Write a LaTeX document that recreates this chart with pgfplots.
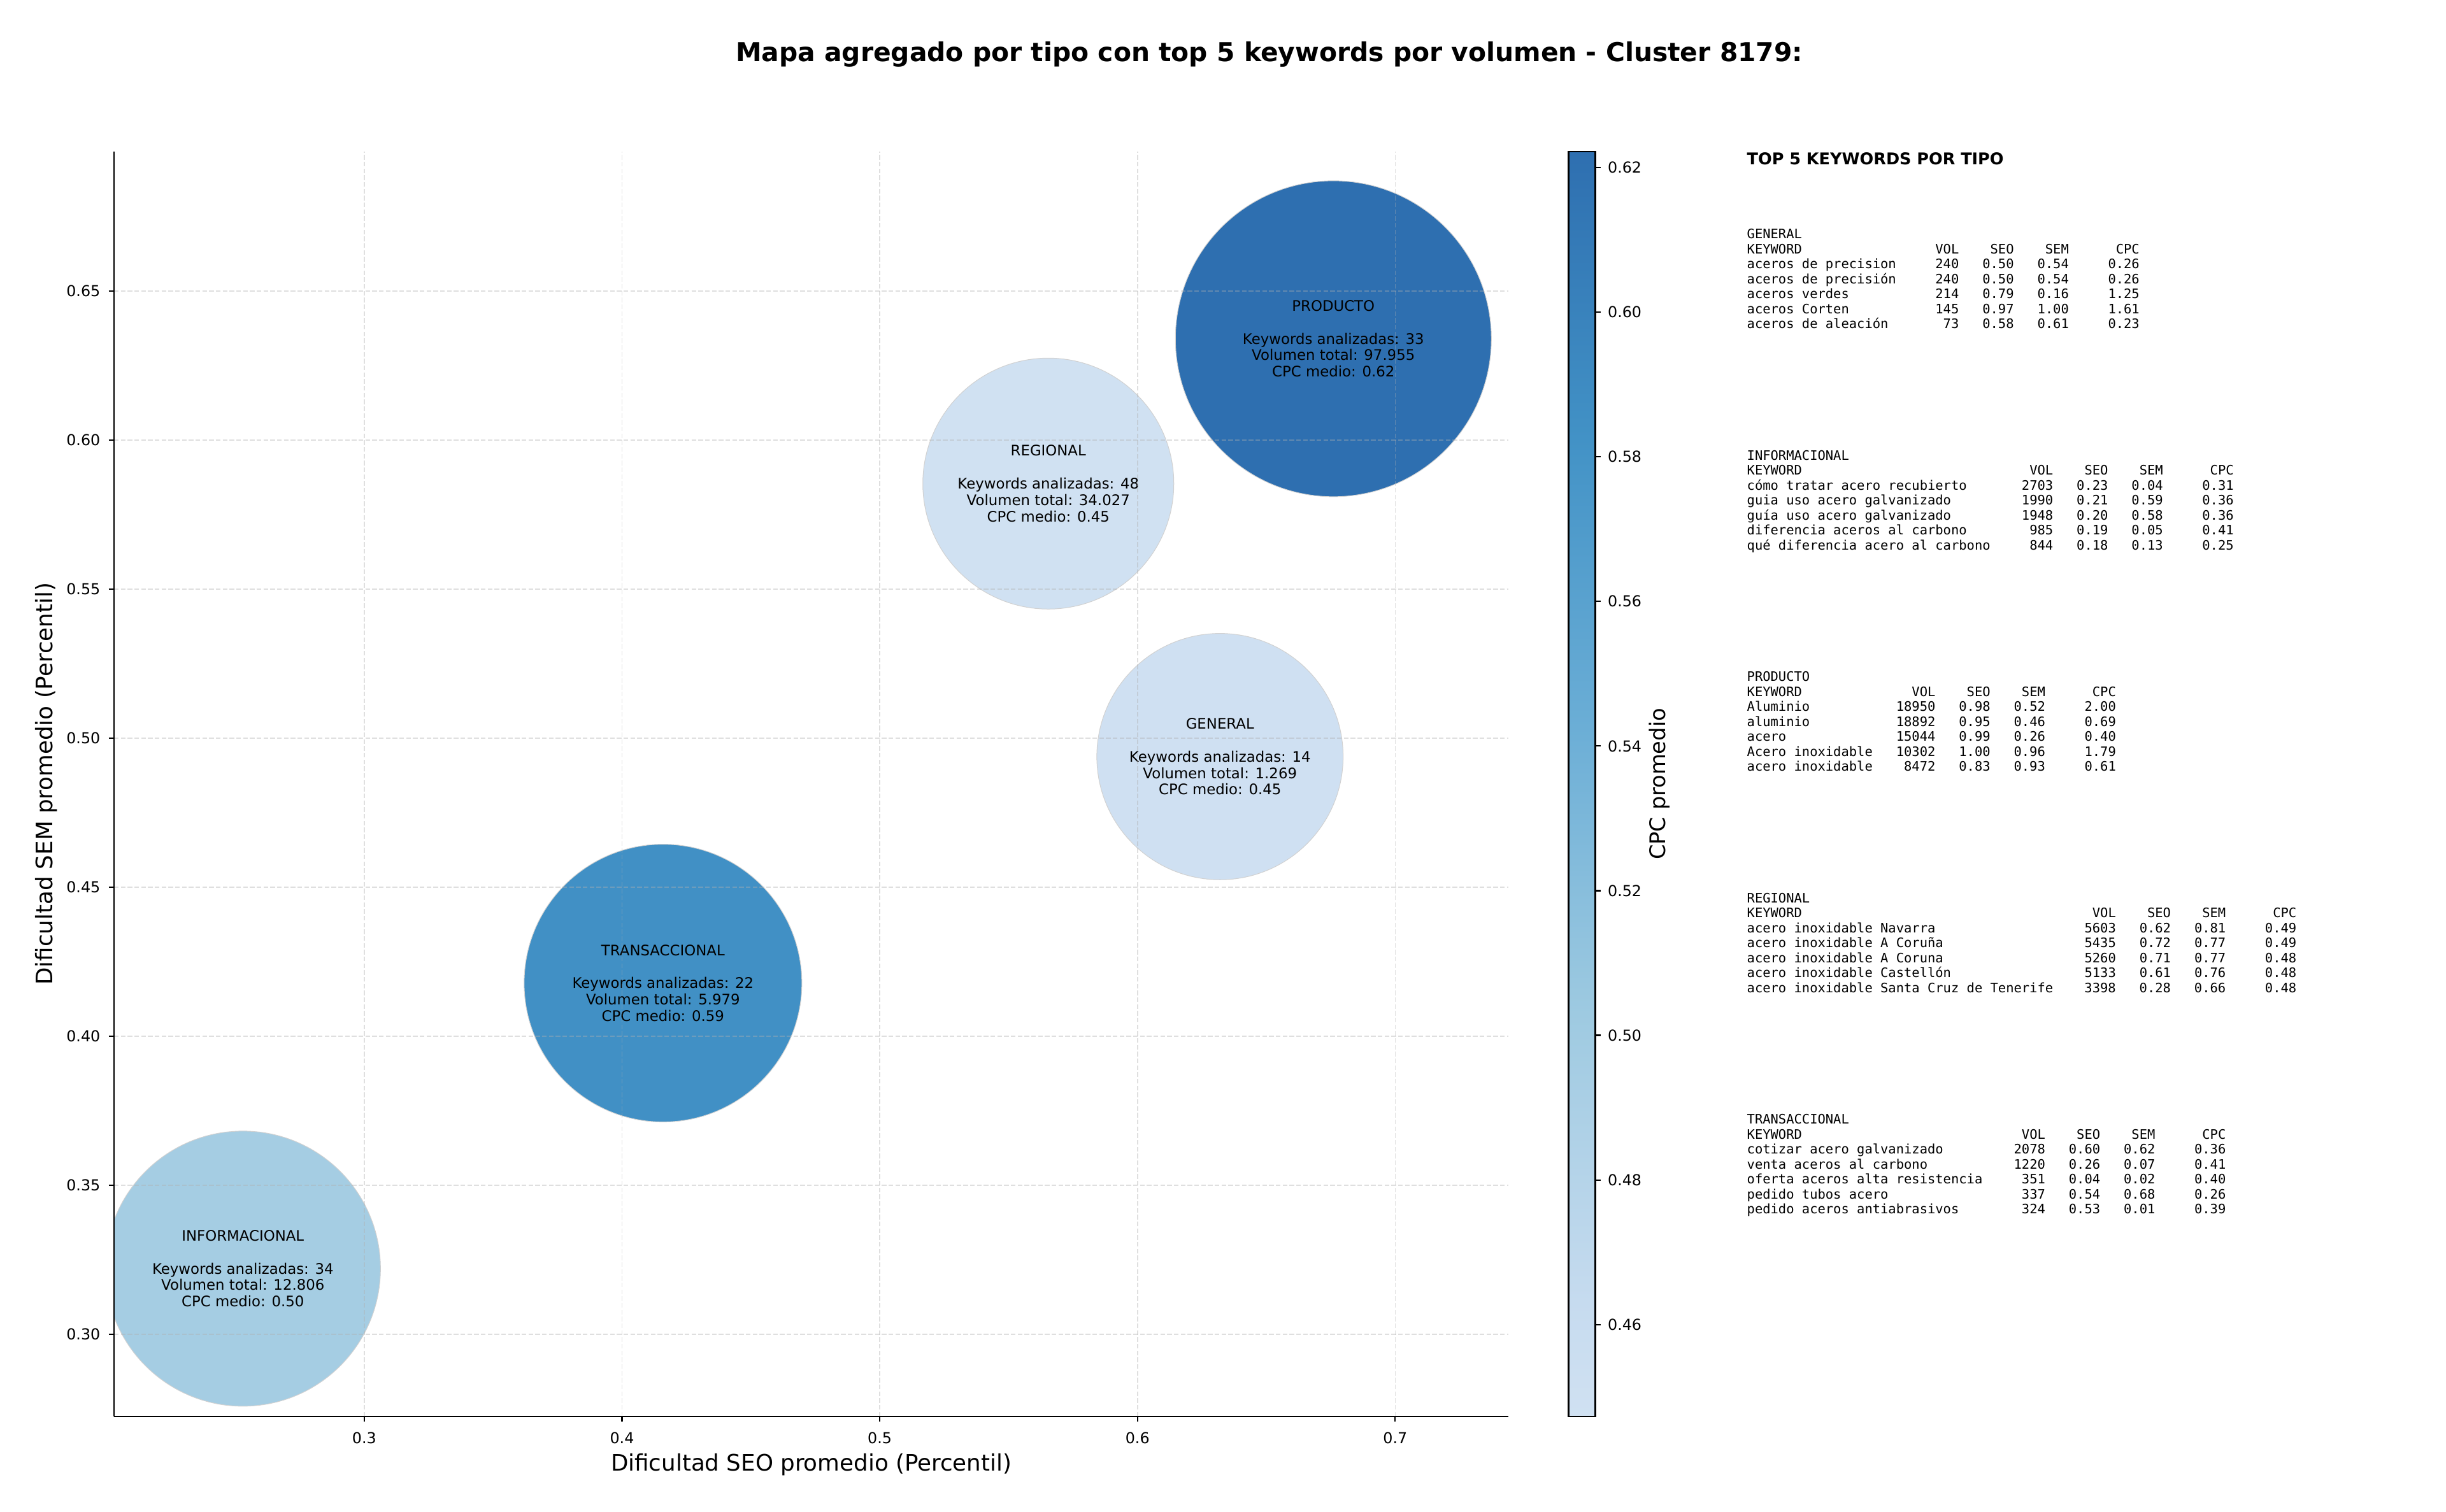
\documentclass[border=0pt]{standalone}
\usepackage{fontspec}
\setmainfont{DejaVu Sans}
\newfontfamily\monofont{DejaVu Sans Mono}
\usepackage{pgfplots}
\pgfplotsset{compat=1.18}

% Blues, cut between 0.2 and 0.75
\pgfplotsset{colormap={cpcblues}{rgb255(0cm)=(208,225,242) rgb255(1cm)=(198,219,239) rgb255(3.5cm)=(158,202,225) rgb255(6cm)=(107,174,214) rgb255(8.5cm)=(66,146,198) rgb255(11cm)=(46,111,176)}}

\newlength\cw
\newcommand\tfont{\monofont\fontsize{6.14}{7.05}\selectfont}
% keyword row: key width, keyword, vol, seo, sem, cpc
\newcommand\kw[6]{\makebox[#1\cw][l]{#2}\makebox[7\cw][r]{#3}\makebox[7\cw][r]{#4}\makebox[7\cw][r]{#5}\makebox[9\cw][r]{#6}}
\newcommand\bubfont{\fontsize{6.85}{7.74}\selectfont}

\pgfplotsset{
  bubble/.style={scatter, only marks, mark=*, point meta=explicit,
    scatter/use mapped color={draw=black!18, fill=mapped color},
    mark options={line width=0.3pt}, mark size=#1},
  bublabel/.style={only marks, mark=none, nodes near coords={#1},
    nodes near coords align=center,
    every node near coord/.append style={text=black, align=center, inner sep=0pt, font=\bubfont}},
}

\begin{document}
\settowidth{\cw}{\tfont 0}%
\begin{tikzpicture}
\path[use as bounding box] (0,0) rectangle (1152pt,712.2pt);

\node[anchor=base, inner sep=0pt, font=\fontsize{12.25}{14}\selectfont\bfseries] at (597.75pt,683.1pt)
  {Mapa agregado por tipo con top 5 keywords por volumen - Cluster 8179:};

\begin{axis}[
  at={(53.7pt,45pt)}, anchor=south west,
  scale only axis, width=656.7pt, height=595.8pt,
  xmin=0.2029, xmax=0.7439, ymin=0.2724, ymax=0.6968,
  axis x line*=bottom, axis y line*=left,
  axis line style={-, line width=0.65pt},
  axis on top,
  xtick={0.3,0.4,0.5,0.6,0.7},
  xticklabels={0.3,0.4,0.5,0.6,0.7},
  ytick={0.30,0.35,0.40,0.45,0.50,0.55,0.60,0.65},
  yticklabels={0.30,0.35,0.40,0.45,0.50,0.55,0.60,0.65},
  tick align=outside, major tick length=2.5pt,
  tick style={black, line width=0.65pt},
  grid=major,
  grid style={dash pattern=on 2.2pt off 1pt, line width=0.45pt, black!31, opacity=0.4},
  tick label style={font=\fontsize{7.14}{8.5}\selectfont},
  xticklabel style={anchor=north, inner sep=0pt, yshift=-4.7pt},
  yticklabel style={anchor=east, inner sep=0pt, xshift=-3.8pt},
  xlabel={Dificultad SEO promedio (Percentil)},
  ylabel={Dificultad SEM promedio (Percentil)},
  every axis x label/.style={at={(axis description cs:0.5,-0.0433)}, anchor=base, inner sep=0pt, font=\fontsize{10.7}{12.8}\selectfont},
  every axis y label/.style={at={(axis description cs:-0.04386,0.5)}, rotate=90, anchor=base, inner sep=0pt, font=\fontsize{10.7}{12.8}\selectfont},
  colormap name=cpcblues,
  point meta min=0.4473, point meta max=0.6222,
  clip marker paths=true,
  colorbar right,
  colorbar style={
    at={(parent axis.north east)}, anchor=north west, xshift=19.8pt,
    scale only axis, width=12.6pt,
    axis line style={line width=0.65pt},
    xtick=\empty,
    ytick={0.46,0.48,0.50,0.52,0.54,0.56,0.58,0.60,0.62},
    yticklabels={0.46,0.48,0.50,0.52,0.54,0.56,0.58,0.60,0.62},
    ytick pos=right,
    tick align=outside, major tick length=2.5pt,
    tick style={black, line width=0.65pt},
    yticklabel style={anchor=west, inner sep=0pt, xshift=3.2pt, font=\fontsize{7.14}{8.5}\selectfont},
    ylabel={CPC promedio},
    every axis y label/.style={at={(axis description cs:3.619,0.5)}, rotate=90, anchor=base, inner sep=0pt, font=\fontsize{10.1}{12}\selectfont},
  },
]
% bubbles: (SEO, SEM) [CPC], radius in pt
\addplot[bubble=64.8pt] coordinates {(0.2529,0.3220) [0.496]};
\addplot[bubble=65.4pt] coordinates {(0.4159,0.4178) [0.585]};
\addplot[bubble=58.0pt] coordinates {(0.6320,0.4938) [0.449]};
\addplot[bubble=59.1pt] coordinates {(0.5654,0.5854) [0.4473]};
\addplot[bubble=74.4pt] coordinates {(0.6760,0.6340) [0.6222]};

\addplot[bublabel={INFORMACIONAL\\[7.74pt]Keywords analizadas: 34\\Volumen total: 12.806\\CPC medio: 0.50}]
  coordinates {(0.2529,0.3220)};
\addplot[bublabel={TRANSACCIONAL\\[7.74pt]Keywords analizadas: 22\\Volumen total: 5.979\\CPC medio: 0.59}]
  coordinates {(0.4159,0.4178)};
\addplot[bublabel={GENERAL\\[7.74pt]Keywords analizadas: 14\\Volumen total: 1.269\\CPC medio: 0.45}]
  coordinates {(0.6320,0.4938)};
\addplot[bublabel={REGIONAL\\[7.74pt]Keywords analizadas: 48\\Volumen total: 34.027\\CPC medio: 0.45}]
  coordinates {(0.5654,0.5854)};
\addplot[bublabel={PRODUCTO\\[7.74pt]Keywords analizadas: 33\\Volumen total: 97.955\\CPC medio: 0.62}]
  coordinates {(0.6760,0.6340)};
\end{axis}

\node[anchor=base west, inner sep=0pt, font=\fontsize{7.65}{9}\selectfont\bfseries] at (822.6pt,634.5pt) {TOP 5 KEYWORDS POR TIPO};

\node[anchor=base west, inner sep=0pt] at (822.6pt,599.7pt) {\tfont\begin{tabular}[t]{@{}l@{}}
GENERAL\\
\kw{20}{KEYWORD}{VOL}{SEO}{SEM}{CPC}\\
\kw{20}{aceros de precision}{240}{0.50}{0.54}{0.26}\\
\kw{20}{aceros de precisión}{240}{0.50}{0.54}{0.26}\\
\kw{20}{aceros verdes}{214}{0.79}{0.16}{1.25}\\
\kw{20}{aceros Corten}{145}{0.97}{1.00}{1.61}\\
\kw{20}{aceros de aleación}{73}{0.58}{0.61}{0.23}
\end{tabular}};

\node[anchor=base west, inner sep=0pt] at (822.6pt,495.45pt) {\tfont\begin{tabular}[t]{@{}l@{}}
INFORMACIONAL\\
\kw{32}{KEYWORD}{VOL}{SEO}{SEM}{CPC}\\
\kw{32}{cómo tratar acero recubierto}{2703}{0.23}{0.04}{0.31}\\
\kw{32}{guia uso acero galvanizado}{1990}{0.21}{0.59}{0.36}\\
\kw{32}{guía uso acero galvanizado}{1948}{0.20}{0.58}{0.36}\\
\kw{32}{diferencia aceros al carbono}{985}{0.19}{0.05}{0.41}\\
\kw{32}{qué diferencia acero al carbono}{844}{0.18}{0.13}{0.25}
\end{tabular}};

\node[anchor=base west, inner sep=0pt] at (822.6pt,391.2pt) {\tfont\begin{tabular}[t]{@{}l@{}}
PRODUCTO\\
\kw{17}{KEYWORD}{VOL}{SEO}{SEM}{CPC}\\
\kw{17}{Aluminio}{18950}{0.98}{0.52}{2.00}\\
\kw{17}{aluminio}{18892}{0.95}{0.46}{0.69}\\
\kw{17}{acero}{15044}{0.99}{0.26}{0.40}\\
\kw{17}{Acero inoxidable}{10302}{1.00}{0.96}{1.79}\\
\kw{17}{acero inoxidable}{8472}{0.83}{0.93}{0.61}
\end{tabular}};

\node[anchor=base west, inner sep=0pt] at (822.6pt,286.95pt) {\tfont\begin{tabular}[t]{@{}l@{}}
REGIONAL\\
\kw{40}{KEYWORD}{VOL}{SEO}{SEM}{CPC}\\
\kw{40}{acero inoxidable Navarra}{5603}{0.62}{0.81}{0.49}\\
\kw{40}{acero inoxidable A Coruña}{5435}{0.72}{0.77}{0.49}\\
\kw{40}{acero inoxidable A Coruna}{5260}{0.71}{0.77}{0.48}\\
\kw{40}{acero inoxidable Castellón}{5133}{0.61}{0.76}{0.48}\\
\kw{40}{acero inoxidable Santa Cruz de Tenerife}{3398}{0.28}{0.66}{0.48}
\end{tabular}};

\node[anchor=base west, inner sep=0pt] at (822.6pt,182.7pt) {\tfont\begin{tabular}[t]{@{}l@{}}
TRANSACCIONAL\\
\kw{31}{KEYWORD}{VOL}{SEO}{SEM}{CPC}\\
\kw{31}{cotizar acero galvanizado}{2078}{0.60}{0.62}{0.36}\\
\kw{31}{venta aceros al carbono}{1220}{0.26}{0.07}{0.41}\\
\kw{31}{oferta aceros alta resistencia}{351}{0.04}{0.02}{0.40}\\
\kw{31}{pedido tubos acero}{337}{0.54}{0.68}{0.26}\\
\kw{31}{pedido aceros antiabrasivos}{324}{0.53}{0.01}{0.39}
\end{tabular}};
\end{tikzpicture}
\end{document}
